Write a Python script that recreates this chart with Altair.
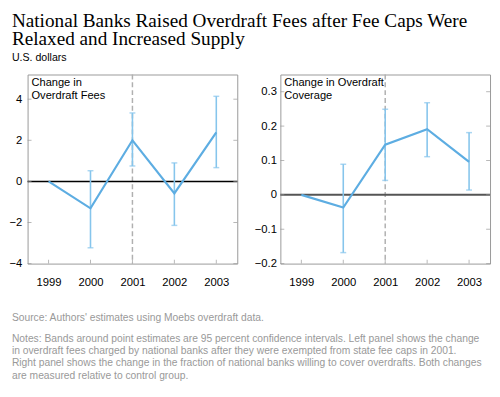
import altair as alt
import pandas as pd

years = [1999, 2000, 2001, 2002, 2003]
fees = [0.0, -1.31, 2.00, -0.58, 2.39]
fees_lo = [None, -3.23, 0.75, -2.14, 0.67]
fees_hi = [None, 0.52, 3.33, 0.90, 4.14]
cov = [0.0, -0.037, 0.146, 0.191, 0.096]
cov_lo = [None, -0.168, 0.042, 0.111, 0.014]
cov_hi = [None, 0.089, 0.249, 0.268, 0.181]

fees_ticks = [-4, -2, 0, 2, 4]
cov_ticks = [-0.2, -0.1, 0.0, 0.1, 0.2, 0.3]

title_lines = ["National Banks Raised Overdraft Fees after Fee Caps Were",
               "Relaxed and Increased Supply"]
unit_label = "U.S. dollars"
source_line = "Source: Authors' estimates using Moebs overdraft data."
notes_lines = [
    "Notes: Bands around point estimates are 95 percent confidence intervals. Left panel shows the change",
    "in overdraft fees charged by national banks after they were exempted from state fee caps in 2001.",
    "Right panel shows the change in the fraction of national banks willing to cover overdrafts. Both changes",
    "are measured relative to control group.",
]

LINE = "#5dade2"
ERR = "#86c5ec"
FRAME = "#999999"
SANS = "Liberation Sans"
H = 193


def panel(vals, lo, hi, ticks, domain, label, width, lab_pad, fmt, zero_color, zero_w):
    df = pd.DataFrame({"year": years, "v": vals})
    edf = pd.DataFrame({"year": years, "lo": lo, "hi": hi}).dropna()
    tdf = pd.DataFrame({"v": ticks})
    ydf = pd.DataFrame({"year": years})

    xsc = alt.Scale(domain=[1998.5, 2003.5], nice=False, zero=False)
    ysc = alt.Scale(domain=domain, nice=False, zero=False)
    xax = alt.Axis(values=years, format="d", title=None, tickSize=0, domain=False,
                   grid=False, labelPadding=13, labelFontSize=11.5, labelColor="black",
                   labelFont=SANS, labelFlush=False)
    yax = alt.Axis(values=ticks, format=fmt, title=None, tickSize=0, domain=False,
                   grid=False, labelPadding=lab_pad, labelFontSize=11.5, labelColor="black",
                   labelFont=SANS, labelFlush=False)
    X = lambda f: alt.X(f, scale=xsc, axis=xax)
    Y = lambda f: alt.Y(f, scale=ysc, axis=yax)

    dash = alt.Chart(pd.DataFrame({"year": [2001]})).mark_rule(
        color="#b0b0b0", strokeDash=[5, 3], strokeWidth=1.5).encode(x=X("year:Q"))
    zero = alt.Chart(pd.DataFrame({"v": [0]})).mark_rule(
        color=zero_color, strokeWidth=zero_w).encode(y=Y("v:Q"))
    err = alt.Chart(edf).mark_rule(color=ERR, strokeWidth=1.6).encode(
        x=X("year:Q"), y=Y("lo:Q"), y2="hi:Q")
    cap_lo = alt.Chart(edf).mark_tick(color=ERR, orient="horizontal", size=6, thickness=1.5).encode(
        x=X("year:Q"), y=Y("lo:Q"))
    cap_hi = alt.Chart(edf).mark_tick(color=ERR, orient="horizontal", size=6, thickness=1.5).encode(
        x=X("year:Q"), y=Y("hi:Q"))
    line = alt.Chart(df).mark_line(color=LINE, strokeWidth=2.2).encode(
        x=X("year:Q"), y=Y("v:Q"))
    lt = alt.Chart(tdf).mark_tick(color=FRAME, orient="horizontal", size=4, thickness=1).encode(
        y=Y("v:Q"), x=alt.value(2))
    rt = alt.Chart(tdf).mark_tick(color=FRAME, orient="horizontal", size=4, thickness=1).encode(
        y=Y("v:Q"), x=alt.value(width - 2))
    bt = alt.Chart(ydf).mark_tick(color=FRAME, orient="vertical", size=4, thickness=1).encode(
        x=X("year:Q"), y=alt.value(H - 2))
    lab = alt.Chart(pd.DataFrame({"a": [0]})).mark_text(
        text=label, align="left", baseline="top", font=SANS, fontSize=11.3,
        lineHeight=12.5, color="black").encode(x=alt.value(4), y=alt.value(3))
    return alt.layer(dash, zero, err, cap_lo, cap_hi, line, lt, rt, bt, lab).properties(
        width=width, height=H, view=alt.ViewBackground(stroke=FRAME, strokeWidth=1))


left = panel(fees, fees_lo, fees_hi, fees_ticks, [-4, 5.2],
             ["Change in", "Overdraft Fees"], 214, 6, "d", "black", 1.5)
right = panel(cov, cov_lo, cov_hi, cov_ticks, [-0.2, 0.35],
              ["Change in Overdraft", "Coverage"], 214, 4, ".1~f", "#555555", 2)

panels = alt.hconcat(left, right, spacing=14)

hdf = pd.DataFrame({"t": title_lines, "ypos": [0, 18]})
header_title = alt.Chart(hdf).mark_text(
    align="left", baseline="top", font="Liberation Serif", fontSize=19.6,
    color="black").encode(
    x=alt.value(-16), y=alt.Y("ypos:Q", scale=None, axis=None), text="t:N")
header_unit = alt.Chart(pd.DataFrame({"t": [unit_label], "ypos": [40]})).mark_text(
    align="left", baseline="top", font=SANS, fontSize=10.8, color="black").encode(
    x=alt.value(-16), y=alt.Y("ypos:Q", scale=None, axis=None), text="t:N")
header = alt.layer(header_title, header_unit).properties(
    width=440, height=61, view=alt.ViewBackground(stroke=None))

fdf = pd.DataFrame({
    "t": [source_line] + notes_lines,
    "ypos": [34, 55, 67.5, 80, 92.5],
})
footer = alt.Chart(fdf).mark_text(
    align="left", baseline="alphabetic", font=SANS, fontSize=10.5, color="#999999").encode(
    x=alt.value(-16), y=alt.Y("ypos:Q", scale=None, axis=None), text="t:N").properties(
    width=440, height=95, view=alt.ViewBackground(stroke=None))

chart = alt.vconcat(header, panels, footer, spacing=0).properties(
    padding=0,
).configure_view(stroke=None)

chart.save("out.html", embed_options={"renderer": "svg", "actions": False})
